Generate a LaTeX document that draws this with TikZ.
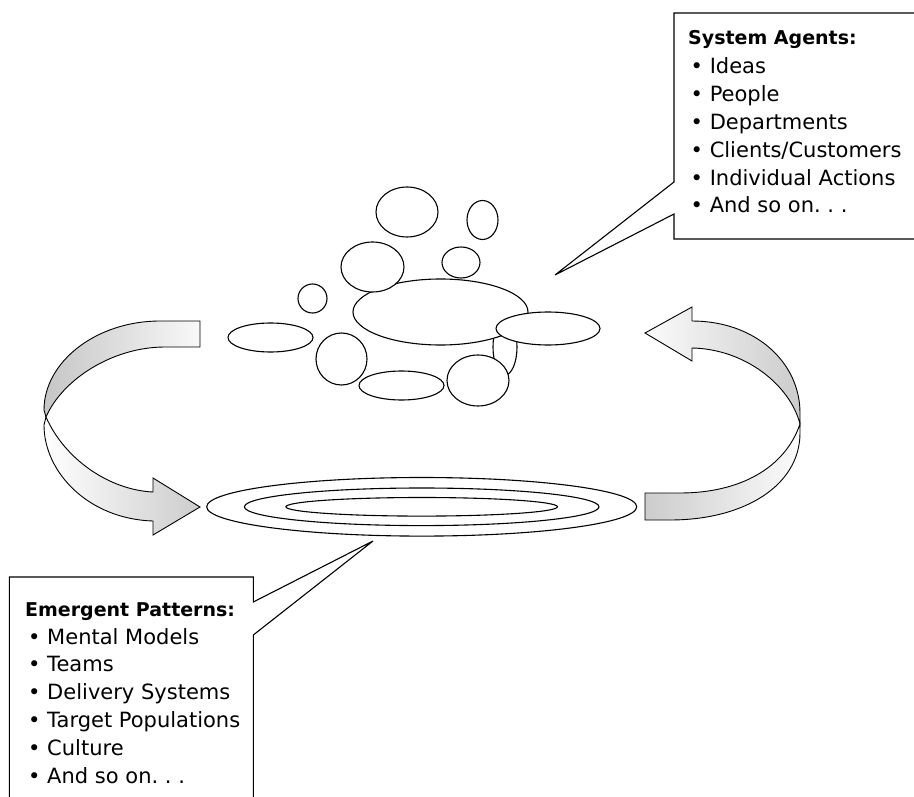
\documentclass[tikz,border=0pt]{standalone}
\usepackage{fontspec}
\setmainfont{DejaVu Sans}
\usetikzlibrary{positioning}

\begin{document}
\begin{tikzpicture}[
        x=1pt, y=-1pt,
        % Define styles for the shapes
        blob/.style={draw=black, fill=white, line width=1.1pt},
        ring/.style={draw=black, line width=1.1pt},
        ribbon/.style={draw=black, line width=0.9pt},
        callout/.style={draw=black, fill=white, line width=1.1pt},
        % Styles for the texts
        head_text/.style={anchor=base west, inner sep=0pt, font=\fontsize{19}{23}\selectfont\bfseries},
        item_text/.style={anchor=base west, inner sep=0pt, font=\fontsize{21}{25}\selectfont}
    ]
    \useasboundingbox (0,0) rectangle (914,797);

    % =========================================================================
    % LEFT ARROW - AGENTS DOWN TO PATTERNS
    % =========================================================================
    \draw[ribbon, left color=gray!45, right color=gray!5]
        (200,321) -- (160,321) .. controls (96,321) and (44,362) .. (44,410)
        -- (46,417) .. controls (62,380) and (112,347) .. (165,347) -- (200,347) -- cycle;
    \draw[ribbon, left color=white, right color=gray!40]
        (46,417) .. controls (65,460) and (110,490) .. (153,492) -- (153,478) -- (200,507)
        -- (153,535) -- (153,521) .. controls (88,519) and (44,472) .. (44,425) -- cycle;

    % =========================================================================
    % RIGHT ARROW - PATTERNS BACK UP TO AGENTS
    % =========================================================================
    \draw[ribbon, left color=gray!3, right color=gray!40]
        (645,333) -- (692,307) -- (692,321) .. controls (755,321) and (800,362) .. (800,413)
        -- (800,424) .. controls (790,385) and (745,349) .. (692,348) -- (692,361) -- cycle;
    \draw[ribbon, left color=gray!40, right color=gray!3]
        (800,424) -- (800,433) .. controls (800,485) and (745,520) .. (670,520) -- (645,520)
        -- (645,493) -- (680,493) .. controls (740,493) and (785,468) .. (800,424) -- cycle;

    % =========================================================================
    % EMERGENT PATTERN - NESTED RINGS
    % =========================================================================
    \draw[ring] (421.7,506.8) ellipse [x radius=215, y radius=29.3];
    \draw[ring] (421.7,506.8) ellipse [x radius=177.3, y radius=18.8];
    \draw[ring] (421.7,506.8) ellipse [x radius=135.8, y radius=9.3];

    % =========================================================================
    % SYSTEM AGENTS - CLUSTER OF BLOBS
    % =========================================================================
    \draw[blob] (505,347) ellipse [x radius=12, y radius=28];
    \draw[blob] (440.5,312) ellipse [x radius=87.5, y radius=33];
    \draw[blob] (407,212) ellipse [x radius=31, y radius=25];
    \draw[blob] (482.5,220) ellipse [x radius=15.5, y radius=19.5];
    \draw[blob] (372.5,267) ellipse [x radius=31.5, y radius=25];
    \draw[blob] (461,262.5) ellipse [x radius=19, y radius=15.5];
    \draw[blob] (312.5,298.5) ellipse [x radius=14.5, y radius=14.5];
    \draw[blob] (270.5,337.5) ellipse [x radius=42.5, y radius=14.5];
    \draw[blob] (341.5,359) ellipse [x radius=25.5, y radius=26];
    \draw[blob] (401.5,385.5) ellipse [x radius=42.5, y radius=14.5];
    \draw[blob] (478,380.5) ellipse [x radius=31, y radius=25.5];
    \draw[blob] (548,328.5) ellipse [x radius=52, y radius=16.5];

    % =========================================================================
    % CALLOUT - SYSTEM AGENTS
    % =========================================================================
    \coordinate (agents_tip) at (555,275);
    \draw[callout] (914,13) -- (674,13) -- (674,182) -- (agents_tip) -- (674,214)
        -- (674,239) -- (914,239);

    \node[head_text] (agents_head) at (688,45) {System Agents:};
    \node[item_text] (agents_ideas) at (690.5,74) {\textbullet\ Ideas};
    \node[item_text] (agents_people) at (690.5,101.8) {\textbullet\ People};
    \node[item_text] (agents_depts) at (690.5,129.6) {\textbullet\ Departments};
    \node[item_text] (agents_clients) at (690.5,157.4) {\textbullet\ Clients/Customers};
    \node[item_text] (agents_actions) at (690.5,185.2) {\textbullet\ Individual Actions};
    \node[item_text] (agents_more) at (690.5,213) {\textbullet\ And so on.\ .\ .};

    % =========================================================================
    % CALLOUT - EMERGENT PATTERNS
    % =========================================================================
    \coordinate (patterns_tip) at (373,541);
    \draw[callout] (9.3,797) -- (9.3,577) -- (253.3,577) -- (253.3,602) -- (patterns_tip)
        -- (253.3,635) -- (253.3,797);

    \node[head_text] (patterns_head) at (25,616) {Emergent Patterns:};
    \node[item_text] (patterns_models) at (28,644) {\textbullet\ Mental Models};
    \node[item_text] (patterns_teams) at (28,671.8) {\textbullet\ Teams};
    \node[item_text] (patterns_delivery) at (28,699.6) {\textbullet\ Delivery Systems};
    \node[item_text] (patterns_targets) at (28,727.4) {\textbullet\ Target Populations};
    \node[item_text] (patterns_culture) at (28,755.2) {\textbullet\ Culture};
    \node[item_text] (patterns_more) at (28,783) {\textbullet\ And so on.\ .\ .};

\end{tikzpicture}
\end{document}
